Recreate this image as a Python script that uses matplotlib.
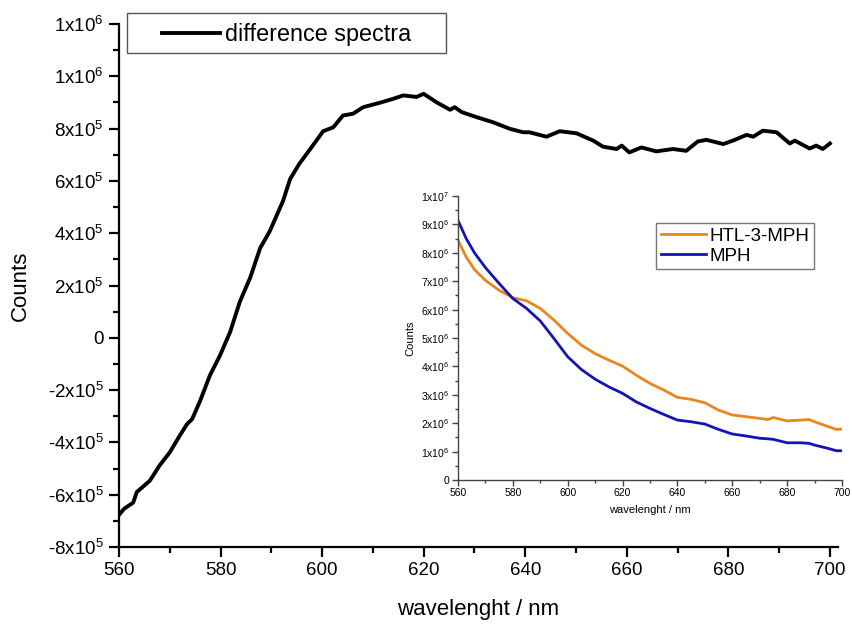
import matplotlib
matplotlib.use("Agg")
import matplotlib.pyplot as plt
from matplotlib.patches import Rectangle
from matplotlib.ticker import FixedLocator, MultipleLocator, FixedFormatter

plt.rcParams['font.family'] = ['Liberation Sans', 'DejaVu Sans']
plt.rcParams['mathtext.fontset'] = 'custom'
plt.rcParams['mathtext.rm'] = 'Liberation Sans'
plt.rcParams['mathtext.default'] = 'regular'

# ---- main: difference spectra ----
diff_wl = [560, 561, 562.8, 563.5, 566.1, 568, 570, 572, 573.4, 574.4, 576, 577.9, 579.9,
           581.9, 583.8, 585.8, 587.8, 589.7, 592.3, 593.7, 595.5, 597.9, 600.2, 602.2, 604.1,
           606.1, 608.1, 611.4, 614, 616, 618.6, 620, 622.5, 625.2, 626.1, 627.5, 630.4,
           633.7, 637, 639.6, 640.8, 644.2, 646.8, 650.1, 653.4, 655.3, 658, 659, 660.5,
           662.9, 665.8, 669.1, 671.7, 674.0, 675.7, 679, 680.9, 683.6, 684.9, 686.8, 689.5,
           692.1, 693.1, 696, 697.3, 698.6, 700]
diff_counts = [-677e3, -654e3, -630e3, -590e3, -546e3, -488e3, -438e3, -373e3, -330e3, -311e3,
               -240e3, -144e3, -67e3, 23e3, 138e3, 228e3, 343e3, 408e3, 523e3, 607e3, 665e3,
               728e3, 790e3, 805e3, 850e3, 857e3, 882e3, 899e3, 914e3, 927e3, 921e3, 933e3,
               901e3, 872e3, 882e3, 863e3, 844e3, 824e3, 799e3, 786e3, 786e3, 769e3, 790e3,
               782e3, 754e3, 731e3, 722e3, 735e3, 709e3, 728e3, 713e3, 722e3, 715e3, 751e3,
               757e3, 741e3, 754e3, 776e3, 769e3, 792e3, 786e3, 743e3, 754e3, 724e3, 735e3,
               722e3, 743e3]

main_yticks = [-8e5, -6e5, -4e5, -2e5, 0, 2e5, 4e5, 6e5, 8e5, 1e6, 1.2e6]
main_yticklabels = ['-8x10$^{5}$', '-6x10$^{5}$', '-4x10$^{5}$', '-2x10$^{5}$', '0',
                    '2x10$^{5}$', '4x10$^{5}$', '6x10$^{5}$', '8x10$^{5}$', '1x10$^{6}$', '1x10$^{6}$']
main_xticks = [560, 580, 600, 620, 640, 660, 680, 700]

# ---- inset ----
inset_wl = [560, 563, 566, 570, 575, 580, 585, 590, 595, 600, 605, 610, 615, 620, 625, 630,
            635, 640, 645, 650, 655, 660, 665, 670, 673, 675, 680, 685, 688, 690, 695, 698, 700]
htl_counts = [8.44e6, 7.85e6, 7.41e6, 7.03e6, 6.68e6, 6.42e6, 6.31e6, 6.04e6, 5.63e6, 5.16e6,
              4.75e6, 4.45e6, 4.22e6, 4.01e6, 3.69e6, 3.40e6, 3.17e6, 2.91e6, 2.84e6, 2.72e6,
              2.46e6, 2.29e6, 2.23e6, 2.17e6, 2.13e6, 2.20e6, 2.08e6, 2.11e6, 2.13e6, 2.05e6,
              1.88e6, 1.78e6, 1.79e6]
mph_counts = [9.14e6, 8.50e6, 8.00e6, 7.48e6, 6.92e6, 6.39e6, 6.04e6, 5.60e6, 4.98e6, 4.34e6,
              3.89e6, 3.55e6, 3.28e6, 3.05e6, 2.75e6, 2.52e6, 2.31e6, 2.11e6, 2.05e6, 1.97e6,
              1.78e6, 1.62e6, 1.55e6, 1.47e6, 1.45e6, 1.43e6, 1.31e6, 1.31e6, 1.29e6, 1.23e6,
              1.11e6, 1.03e6, 1.03e6]
inset_yticks = [0, 1e6, 2e6, 3e6, 4e6, 5e6, 6e6, 7e6, 8e6, 9e6, 1e7]
inset_yticklabels = ['0', '1x10$^{6}$', '2x10$^{6}$', '3x10$^{6}$', '4x10$^{6}$', '5x10$^{6}$',
                     '6x10$^{6}$', '7x10$^{6}$', '8x10$^{6}$', '9x10$^{6}$', '1x10$^{7}$']
inset_xticks = [560, 580, 600, 620, 640, 660, 680, 700]

W, H = 853, 624
fig = plt.figure(figsize=(W / 100, H / 100), dpi=100)

ax = fig.add_axes([119 / W, 1 - 547 / H, (838 - 119) / W, (547 - 24) / H])
ax.plot(diff_wl, diff_counts, color='black', lw=2.8, label='difference spectra')
ax.set_xlim(560, 701.6)
ax.set_ylim(-8e5, 1.2e6)
for s in ['top', 'right']:
    ax.spines[s].set_visible(False)
for s in ['left', 'bottom']:
    ax.spines[s].set_linewidth(1.6)
ax.xaxis.set_major_locator(FixedLocator(main_xticks))
ax.xaxis.set_minor_locator(MultipleLocator(10))
ax.yaxis.set_major_locator(FixedLocator(main_yticks))
ax.yaxis.set_major_formatter(FixedFormatter(main_yticklabels))
ax.yaxis.set_minor_locator(MultipleLocator(1e5))
ax.tick_params(which='major', direction='out', length=7, width=1.6, labelsize=13.5, pad=4)
ax.tick_params(which='minor', direction='out', length=4.5, width=1.6)
ax.set_xlabel('wavelenght / nm', fontsize=16, labelpad=14)
ax.set_ylabel('Counts', fontsize=16, labelpad=12)

# legend box (frame drawn separately) with centred content
fig.patches.append(Rectangle((127 / W, 1 - 53 / H), (446 - 127) / W, 40 / H,
                             transform=fig.transFigure, facecolor='white',
                             edgecolor='#555555', linewidth=1.0, zorder=5))
leg = fig.legend(loc='center', bbox_to_anchor=(286.5 / W, 1 - 35 / H),
                 fontsize=16.8, handlelength=2.5, handletextpad=0.2, frameon=False,
                 borderpad=0.0, borderaxespad=0, bbox_transform=fig.transFigure,
                 handles=ax.get_lines())
leg.set_zorder(6)

# inset
ai = fig.add_axes([458 / W, 1 - 480 / H, (842 - 458) / W, (480 - 196) / H])
ai.plot(inset_wl, htl_counts, color='#E8871E', lw=2.0, label='HTL-3-MPH')
ai.plot(inset_wl, mph_counts, color='#1414B4', lw=2.0, label='MPH')
ai.set_xlim(560, 700)
ai.set_ylim(0, 1e7)
for s in ['top', 'right']:
    ai.spines[s].set_visible(False)
for s in ['left', 'bottom']:
    ai.spines[s].set_linewidth(1.0)
    ai.spines[s].set_color('#444444')
ai.xaxis.set_major_locator(FixedLocator(inset_xticks))
ai.xaxis.set_minor_locator(MultipleLocator(10))
ai.yaxis.set_major_locator(FixedLocator(inset_yticks))
ai.yaxis.set_major_formatter(FixedFormatter(inset_yticklabels))
ai.yaxis.set_minor_locator(MultipleLocator(5e5))
ai.tick_params(which='major', direction='out', length=4, width=1.0, labelsize=7.5, pad=2,
               color='#444444')
ai.tick_params(which='minor', direction='out', length=2.5, width=1.0, color='#444444')
ai.set_xlabel('wavelenght / nm', fontsize=8, labelpad=5)
ai.set_ylabel('Counts', fontsize=8, labelpad=4)
ai.legend(loc='upper left', bbox_to_anchor=((656 - 458) / (842 - 458), (480 - 223) / (480 - 196)),
          fontsize=13.5, handlelength=2.4, handletextpad=0.2, fancybox=False,
          edgecolor='#777777', framealpha=1, borderpad=0.25, labelspacing=0.15,
          borderaxespad=0)

fig.savefig('out.png', dpi=100)
